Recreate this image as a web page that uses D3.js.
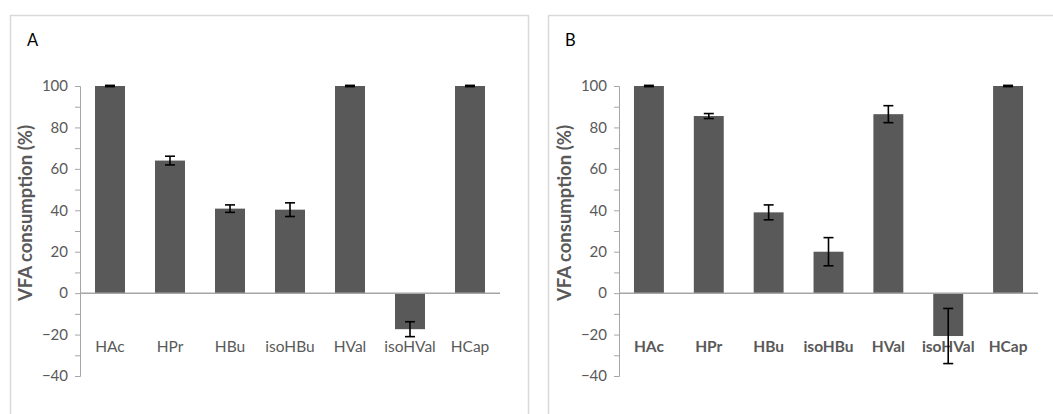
<!DOCTYPE html>
<html>
<head>
<meta charset="utf-8">
<script src="https://cdn.jsdelivr.net/npm/d3@7"></script>
<style>
  body { margin: 0; background: #fff; }
  svg { display: block; font-family: Lato, "Open Sans", sans-serif; }
</style>
</head>
<body>
<svg id="chart" width="1053" height="414"></svg>
<script>
const categories = ['HAc', 'HPr', 'HBu', 'isoHBu', 'HVal', 'isoHVal', 'HCap']
const valuesA = [100, 64, 40.8, 40.3, 100, -17.4, 100]
const errorsA = [0.3, 2.1, 1.8, 3.3, 0.3, 3.6, 0.3]
const valuesB = [100, 85.5, 39, 20, 86.4, -20.7, 100]
const errorsB = [0.3, 1.2, 3.6, 6.8, 4.1, 13.3, 0.3]
const yTicks = [-40, -20, 0, 20, 40, 60, 80, 100]
const yMinorTicks = [-30, -10, 10, 30, 50, 70, 90]

const svg = d3.select('#chart')
const grey = '#595959'
const axisGrey = '#a6a6a6'

function panel(opts) {
    const g = svg.append('g')

    // frame
    g.append('rect')
        .attr('x', opts.frameX + 0.5).attr('y', 15.5)
        .attr('width', opts.frameW).attr('height', 420)
        .attr('fill', 'none').attr('stroke', '#d9d9d9').attr('stroke-width', 1.5)

    g.append('text')
        .attr('x', opts.frameX + 17).attr('y', 45.5)
        .style('font-size', '16.5px').style('fill', '#000')
        .text(opts.letter)

    const x = d3.scaleBand().domain(categories)
        .range([opts.left, opts.right]).paddingInner(0.5).paddingOuter(0.25)
    const y = d3.scaleLinear().domain([-40, 100]).range([376, 86])

    // bars
    g.selectAll('rect.bar').data(opts.values).enter().append('rect')
        .attr('class', 'bar')
        .attr('x', (d, i) => x(categories[i]))
        .attr('width', x.bandwidth())
        .attr('y', d => y(Math.max(0, d)))
        .attr('height', d => Math.abs(y(d) - y(0)))
        .attr('fill', grey)

    // y axis
    const yAxis = d3.axisLeft(y).tickValues(yTicks).tickSize(5).tickPadding(7)
    const ya = g.append('g').attr('transform', 'translate(' + opts.left + ',0)').call(yAxis)
    ya.select('.domain').attr('stroke', axisGrey).attr('d', 'M-5,86.5H0.5V376.5H-5')
    ya.selectAll('.tick line').attr('stroke', axisGrey)
    ya.selectAll('.tick text').style('font-size', '15px').style('fill', grey)
        .style('font-family', 'Lato, sans-serif')
    ya.selectAll('line.minor').data(yMinorTicks).enter().append('line')
        .attr('class', 'minor')
        .attr('x1', -5).attr('x2', 0)
        .attr('y1', d => y(d) + 0.5).attr('y2', d => y(d) + 0.5)
        .attr('stroke', axisGrey)

    // x axis line at zero
    g.append('line')
        .attr('x1', opts.left).attr('x2', opts.right)
        .attr('y1', y(0)).attr('y2', y(0))
        .attr('stroke', axisGrey).attr('stroke-width', 1.5)

    // category labels
    g.selectAll('text.cat').data(categories).enter().append('text')
        .attr('class', 'cat')
        .attr('x', d => x(d) + x.bandwidth() / 2)
        .attr('y', 352)
        .attr('text-anchor', 'middle')
        .style('font-size', '15.5px')
        .style('font-weight', opts.boldLabels ? 'bold' : 'normal')
        .style('fill', grey)
        .text(d => d)

    // error bars
    const eb = g.selectAll('g.err').data(opts.values).enter().append('g')
        .attr('class', 'err')
        .attr('stroke', '#000').attr('stroke-width', 1.6)
    const cx = i => x(categories[i]) + x.bandwidth() / 2
    eb.append('line')
        .attr('x1', (d, i) => cx(i)).attr('x2', (d, i) => cx(i))
        .attr('y1', (d, i) => y(d + opts.errors[i]))
        .attr('y2', (d, i) => y(d - opts.errors[i]))
    eb.append('line')
        .attr('x1', (d, i) => cx(i) - 5).attr('x2', (d, i) => cx(i) + 5)
        .attr('y1', (d, i) => y(d + opts.errors[i]))
        .attr('y2', (d, i) => y(d + opts.errors[i]))
    eb.append('line')
        .attr('x1', (d, i) => cx(i) - 5).attr('x2', (d, i) => cx(i) + 5)
        .attr('y1', (d, i) => y(d - opts.errors[i]))
        .attr('y2', (d, i) => y(d - opts.errors[i]))

    // y label
    g.append('text')
        .attr('transform', 'translate(' + (opts.left - 48) + ',' + 213 + ') rotate(-90)')
        .attr('text-anchor', 'middle')
        .style('font-size', '18.5px').style('font-weight', 'bold').style('fill', grey)
        .text('VFA consumption (%)')
}

panel({ letter: 'A', frameX: 10, frameW: 518, left: 80, right: 500,
    values: valuesA, errors: errorsA, boldLabels: false })
panel({ letter: 'B', frameX: 548, frameW: 520, left: 619, right: 1038,
    values: valuesB, errors: errorsB, boldLabels: true })
</script>
</body>
</html>
